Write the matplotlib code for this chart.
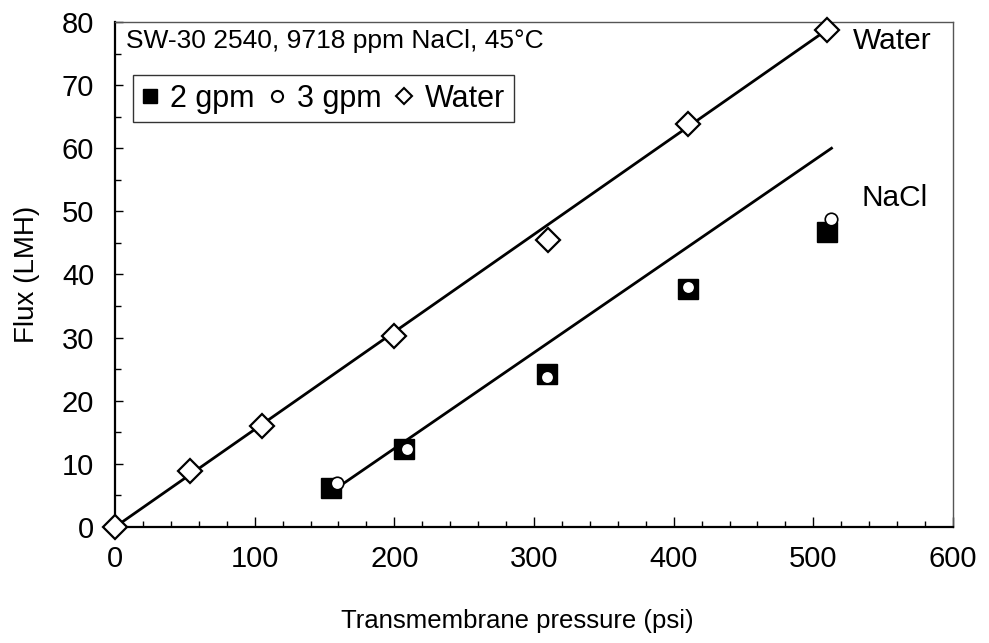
import matplotlib
matplotlib.use("Agg")
import matplotlib.pyplot as plt
from matplotlib.ticker import MultipleLocator
from matplotlib.lines import Line2D

plt.rcParams['font.family'] = ['Liberation Sans', 'DejaVu Sans']

# Data
water_p = [0, 54, 105, 200, 310, 410, 510]
water_flux = [0, 8.9, 16.0, 30.2, 45.5, 63.9, 78.8]
gpm2_p = [155, 207, 309, 410, 510]
gpm2_flux = [6.1, 12.3, 24.2, 37.7, 46.8]
gpm3_p = [159, 209, 309, 410, 513]
gpm3_flux = [7.0, 12.3, 23.8, 38.0, 48.8]
water_fit_p = [0, 510]
water_fit_flux = [0, 78.8]
nacl_fit_p = [159, 513]
nacl_fit_flux = [6.2, 60.0]

fig = plt.figure(figsize=(9.89, 6.43), dpi=100)
ax = fig.add_axes([0.1163, 0.1804, 0.8473, 0.7854])

ax.plot(water_fit_p, water_fit_flux, color='black', lw=2.0, zorder=2)
ax.plot(nacl_fit_p, nacl_fit_flux, color='black', lw=2.0, zorder=2)
ax.plot(gpm2_p, gpm2_flux, linestyle='none', marker='s', ms=15, mfc='black', mec='black', zorder=3)
ax.plot(gpm3_p, gpm3_flux, linestyle='none', marker='o', ms=9, mfc='white', mec='black', mew=1.2, zorder=4)
ax.plot(water_p, water_flux, linestyle='none', marker='D', ms=12, mfc='white', mec='black', mew=1.6, zorder=4, clip_on=False)

ax.set_xlim(0, 600)
ax.set_ylim(0, 80)
ax.xaxis.set_major_locator(MultipleLocator(100))
ax.xaxis.set_minor_locator(MultipleLocator(20))
ax.yaxis.set_major_locator(MultipleLocator(10))
ax.yaxis.set_minor_locator(MultipleLocator(5))
ax.tick_params(axis='both', which='both', direction='in', labelsize=21, top=False, right=False)
ax.tick_params(axis='x', which='major', length=7, width=1.0, pad=13)
ax.tick_params(axis='x', which='minor', length=4, width=1.0)
ax.tick_params(axis='y', which='major', length=6, width=1.0, pad=15)
ax.tick_params(axis='y', which='minor', length=4, width=1.0)

for s in ['left', 'bottom']:
    ax.spines[s].set_linewidth(1.6)
    ax.spines[s].set_color('black')
for s in ['top', 'right']:
    ax.spines[s].set_linewidth(1.0)
    ax.spines[s].set_color('#555555')

ax.set_xlabel('Transmembrane pressure (psi)', fontsize=18.5)
ax.xaxis.set_label_coords(0.48, -0.163)
ax.set_ylabel('Flux (LMH)', fontsize=20, labelpad=16)

ax.text(0.013, 0.963, 'SW-30 2540, 9718 ppm NaCl, 45°C', transform=ax.transAxes,
        fontsize=19, ha='left', va='center')
ax.text(0.88, 0.963, 'Water', transform=ax.transAxes, fontsize=21.5, ha='left', va='center')
ax.text(0.891, 0.651, 'NaCl', transform=ax.transAxes, fontsize=21.5, ha='left', va='center')

handles = [
    Line2D([], [], linestyle='none', marker='s', ms=10, mfc='black', mec='black'),
    Line2D([], [], linestyle='none', marker='o', ms=8, mfc='white', mec='black', mew=1.5),
    Line2D([], [], linestyle='none', marker='D', ms=8, mfc='white', mec='black', mew=1.5),
]
leg = ax.legend(handles, ['2 gpm', '3 gpm', 'Water'], ncol=3, loc='upper left',
                bbox_to_anchor=(0.021, 0.895), fontsize=22, frameon=True, fancybox=False,
                handlelength=0.55, handletextpad=0.4, columnspacing=0.45, borderpad=0.28,
                borderaxespad=0)
leg.get_frame().set_edgecolor('black')
leg.get_frame().set_linewidth(1.0)

fig.savefig('out.png', dpi=100)
